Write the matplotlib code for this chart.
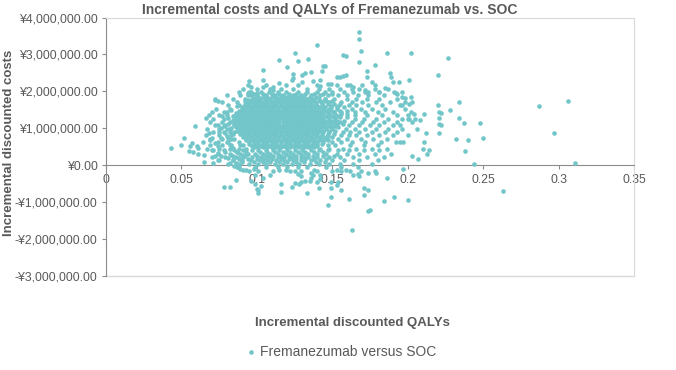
import matplotlib.pyplot as plt
import numpy as np
from matplotlib.ticker import FuncFormatter, MultipleLocator

plt.rcParams["font.family"] = ["Liberation Sans", "DejaVu Sans"]

TITLE = "Incremental costs and QALYs of Fremanezumab vs. SOC"
X_LABEL = "Incremental discounted QALYs"
Y_LABEL = "Incremental discounted costs"
SERIES = "Fremanezumab versus SOC"

# scattered simulations read one by one (QALY, cost in million yen)
single_points = [
    (0.168, 3.62), (0.168, 3.41), (0.169, 3.10), (0.168, 2.80), (0.140, 3.25),
    (0.125, 3.04), (0.186, 3.04), (0.157, 2.99), (0.159, 2.96), (0.115, 2.85),
    (0.127, 2.82), (0.134, 2.87), (0.120, 2.67), (0.144, 2.68), (0.145, 2.68),
    (0.178, 2.71), (0.104, 2.58), (0.124, 2.46), (0.130, 2.45), (0.132, 2.49),
    (0.136, 2.52), (0.143, 2.56), (0.157, 2.42), (0.155, 2.40), (0.159, 2.45),
    (0.153, 2.39), (0.173, 2.54), (0.173, 2.40), (0.188, 2.51), (0.189, 2.38),
    (0.190, 2.26), (0.104, 2.31), (0.123, 2.31), (0.124, 2.36), (0.130, 2.24),
    (0.137, 2.29), (0.142, 2.31), (0.147, 2.20), (0.149, 2.20), (0.142, 2.14),
    (0.162, 2.17), (0.164, 2.13), (0.176, 2.25), (0.172, 2.04), (0.174, 1.99),
    (0.181, 1.99), (0.185, 2.10), (0.192, 1.95), (0.111, 2.13), (0.111, 2.04),
    (0.115, 2.22), (0.095, 2.29), (0.096, 2.11), (0.104, 2.13), (0.095, 1.99),
    (0.094, 1.95), (0.096, 1.91), (0.100, 1.95), (0.072, 1.79),
    (0.202, 3.03), (0.227, 2.91), (0.220, 2.43), (0.194, 2.26), (0.201, 2.30),
    (0.193, 1.93), (0.196, 1.99), (0.198, 1.82), (0.202, 1.84), (0.196, 1.86),
    (0.306, 1.75), (0.287, 1.61), (0.297, 0.86), (0.234, 1.71), (0.220, 1.64),
    (0.228, 1.50), (0.221, 1.44), (0.222, 1.41), (0.221, 1.28), (0.221, 1.12),
    (0.222, 1.09), (0.234, 1.28), (0.237, 1.14), (0.248, 1.15), (0.221, 0.87),
    (0.232, 0.72), (0.240, 0.68), (0.250, 0.75), (0.238, 0.38), (0.244, 0.03),
    (0.212, 0.87), (0.211, 0.64), (0.210, 0.44), (0.214, 0.41), (0.213, 0.30),
    (0.203, 0.25), (0.207, 0.16), (0.197, 0.64), (0.195, 0.62), (0.195, 1.09),
    (0.211, 1.38), (0.202, 1.44), (0.204, 1.40), (0.200, 1.26), (0.201, 1.26),
    (0.205, 1.26), (0.208, 1.23), (0.196, 1.64), (0.198, 1.71), (0.201, 1.65),
    (0.203, 1.71), (0.197, -0.09), (0.311, 0.07),
    (0.200, -0.93), (0.263, -0.71),
    (0.163, -1.76), (0.174, -1.23), (0.175, -1.20), (0.161, -0.91), (0.147, -1.07),
    (0.149, -0.86), (0.133, -0.74), (0.116, -0.73), (0.116, -0.51), (0.123, -0.59),
    (0.125, -0.48), (0.128, -0.51), (0.129, -0.45), (0.132, -0.42), (0.135, -0.44),
    (0.136, -0.35), (0.137, -0.26), (0.136, -0.21), (0.140, -0.45), (0.141, -0.62),
    (0.142, -0.36), (0.149, -0.62), (0.154, -0.45), (0.156, -0.66), (0.153, -0.53),
    (0.168, -0.30), (0.167, -0.24), (0.169, -0.17), (0.171, -0.62), (0.171, -0.80),
    (0.174, -0.68), (0.174, -0.21), (0.178, -0.17), (0.179, -0.21), (0.186, -0.35),
    (0.184, -0.96), (0.191, -0.87), (0.109, -0.26), (0.111, -0.17), (0.115, -0.12),
    (0.119, -0.12), (0.122, -0.17), (0.125, -0.17), (0.127, -0.24), (0.129, -0.17),
    (0.129, -0.30), (0.138, -0.12), (0.140, -0.17), (0.142, -0.26), (0.150, -0.17),
    (0.153, -0.12), (0.156, -0.17), (0.159, -0.12), (0.162, -0.17), (0.164, -0.26),
    (0.149, -0.45),
    (0.078, -0.60), (0.082, -0.58), (0.086, -0.41), (0.091, -0.12), (0.093, -0.12),
    (0.089, -0.09), (0.096, -0.42), (0.099, -0.51), (0.100, -0.64), (0.101, -0.75),
    (0.101, -0.66), (0.099, -0.26), (0.101, -0.17), (0.095, -0.17), (0.098, -0.09),
    (0.103, -0.55), (0.104, -0.35), (0.085, -0.03), (0.088, -0.06),
    (0.043, 0.46), (0.050, 0.55), (0.052, 0.73), (0.057, 0.60), (0.056, 0.51),
    (0.055, 0.39), (0.058, 0.37), (0.060, 0.51), (0.061, 0.46), (0.061, 0.31),
    (0.065, 0.28), (0.065, 0.10), (0.059, 1.07), (0.066, 1.29), (0.068, 1.36),
    (0.072, 1.77), (0.074, 1.74), (0.068, 0.87), (0.070, 0.75), (0.069, 0.69),
    (0.072, 0.60), (0.074, 0.51), (0.071, 0.42), (0.074, 0.33), (0.072, 0.24),
    (0.076, 0.24), (0.071, 0.06), (0.074, 0.15), (0.078, 1.45), (0.077, 1.32),
    (0.081, 1.28), (0.074, 1.09), (0.076, 1.01), (0.078, 1.05), (0.075, 0.91),
    (0.079, 0.87), (0.076, 0.75), (0.081, 0.74),
    (0.082, 1.18), (0.084, 1.32), (0.086, 1.41), (0.083, 1.01), (0.085, 0.91),
    (0.082, 0.55), (0.084, 0.46), (0.079, 0.37), (0.083, 0.28), (0.081, 0.19),
    (0.084, 0.15), (0.086, 0.06), (0.088, 0.19), (0.091, 0.28), (0.087, 0.37),
    (0.082, 0.06), (0.092, 1.74), (0.094, 1.77), (0.098, 1.82), (0.103, 1.72),
    (0.106, 1.77), (0.101, 1.86), (0.093, 1.55), (0.099, 1.50), (0.104, 1.45),
    (0.080, 0.62), (0.083, 0.70), (0.080, 0.80), (0.084, 0.84), (0.082, 0.97),
    (0.085, 1.08), (0.081, 1.12), (0.084, 1.23), (0.083, 1.49), (0.087, 1.60),
]

# dense body of the cloud, read row by row (cost level, QALYs along the row)
row_costs = [
    2.16, 2.07, 1.98, 1.93, 1.89,
    1.84, 1.75, 1.66, 1.57, 1.48, 1.39, 1.30, 1.21, 1.12, 1.03, 0.94, 0.85,
    0.76, 0.67, 0.58, 0.49,
    1.79, 1.70, 1.61, 1.52, 1.43, 1.34, 1.25, 1.16, 1.07, 0.98, 0.89, 0.80,
    0.71, 0.62, 0.53,
    1.80, 1.71, 1.62, 1.53, 1.44, 1.35, 1.26, 1.17, 1.08, 0.99, 0.90, 0.81,
    0.72, 0.63, 0.54, 0.45,
    0.40, 0.35, 0.31, 0.26, 0.22, 0.17, 0.13, 0.08, 0.04, -0.05,
]
row_qalys = [
    [0.094, 0.106, 0.119, 0.127, 0.140, 0.153, 0.160, 0.170, 0.178],
    [0.091, 0.100, 0.109, 0.116, 0.124, 0.133, 0.141, 0.148, 0.155, 0.163, 0.168, 0.178, 0.187],
    [0.088, 0.096, 0.103, 0.108, 0.114, 0.119, 0.127, 0.133, 0.140, 0.145, 0.150, 0.158,
     0.164, 0.172, 0.181, 0.191],
    [0.098, 0.104, 0.110, 0.115, 0.121, 0.126, 0.132, 0.138, 0.144, 0.150],
    [0.080, 0.089, 0.094, 0.100, 0.106, 0.112, 0.117, 0.124, 0.129, 0.136, 0.142, 0.147,
     0.154, 0.160, 0.167, 0.174, 0.184],
    # solid core
    [0.101, 0.104, 0.107, 0.110, 0.113, 0.116, 0.119, 0.122, 0.125, 0.128, 0.131, 0.135, 0.139],
    [0.095, 0.098, 0.101, 0.103, 0.106, 0.109, 0.112, 0.115, 0.117, 0.120, 0.123, 0.126,
     0.129, 0.132, 0.135, 0.138, 0.142, 0.146, 0.150],
    [0.092, 0.095, 0.098, 0.101, 0.104, 0.107, 0.110, 0.113, 0.116, 0.119, 0.122, 0.124,
     0.127, 0.130, 0.133, 0.136, 0.139, 0.143, 0.147, 0.151, 0.155],
    [0.090, 0.093, 0.096, 0.099, 0.102, 0.105, 0.108, 0.111, 0.114, 0.117, 0.120, 0.123,
     0.126, 0.129, 0.132, 0.135, 0.138, 0.141, 0.145, 0.149, 0.153, 0.158],
    [0.088, 0.091, 0.094, 0.097, 0.100, 0.103, 0.106, 0.109, 0.112, 0.115, 0.118, 0.121,
     0.124, 0.127, 0.130, 0.133, 0.136, 0.139, 0.142, 0.146, 0.150, 0.155, 0.160],
    [0.087, 0.090, 0.093, 0.096, 0.099, 0.102, 0.105, 0.108, 0.111, 0.114, 0.117, 0.120,
     0.123, 0.126, 0.129, 0.132, 0.135, 0.138, 0.141, 0.144, 0.148, 0.152, 0.156, 0.160],
    [0.086, 0.089, 0.092, 0.095, 0.098, 0.101, 0.104, 0.107, 0.110, 0.113, 0.116, 0.119,
     0.122, 0.125, 0.128, 0.131, 0.134, 0.137, 0.140, 0.143, 0.147, 0.151, 0.155, 0.160],
    [0.085, 0.088, 0.091, 0.094, 0.097, 0.100, 0.103, 0.106, 0.109, 0.112, 0.115, 0.118,
     0.121, 0.124, 0.127, 0.130, 0.133, 0.136, 0.139, 0.142, 0.145, 0.149, 0.153, 0.158],
    [0.085, 0.088, 0.091, 0.094, 0.097, 0.100, 0.103, 0.106, 0.109, 0.112, 0.115, 0.118,
     0.121, 0.124, 0.127, 0.130, 0.133, 0.136, 0.139, 0.142, 0.145, 0.149, 0.153, 0.157],
    [0.086, 0.089, 0.092, 0.095, 0.098, 0.101, 0.104, 0.107, 0.110, 0.113, 0.116, 0.119,
     0.122, 0.125, 0.128, 0.131, 0.134, 0.137, 0.140, 0.143, 0.146, 0.150, 0.154],
    [0.087, 0.090, 0.093, 0.096, 0.099, 0.102, 0.105, 0.108, 0.111, 0.114, 0.117, 0.120,
     0.123, 0.126, 0.129, 0.132, 0.135, 0.138, 0.141, 0.144, 0.148, 0.152],
    [0.089, 0.092, 0.095, 0.098, 0.101, 0.104, 0.107, 0.110, 0.113, 0.116, 0.119, 0.122,
     0.125, 0.128, 0.131, 0.134, 0.137, 0.140, 0.143, 0.147, 0.151],
    [0.091, 0.094, 0.097, 0.100, 0.103, 0.106, 0.109, 0.112, 0.115, 0.118, 0.121, 0.124,
     0.127, 0.130, 0.133, 0.136, 0.139, 0.142, 0.146, 0.150],
    [0.093, 0.096, 0.099, 0.102, 0.105, 0.108, 0.111, 0.114, 0.117, 0.120, 0.123, 0.126,
     0.129, 0.132, 0.135, 0.138, 0.141, 0.144, 0.147],
    [0.095, 0.098, 0.101, 0.104, 0.107, 0.110, 0.113, 0.116, 0.119, 0.122, 0.125, 0.128,
     0.131, 0.134, 0.137, 0.140, 0.143],
    [0.098, 0.101, 0.104, 0.107, 0.110, 0.113, 0.116, 0.119, 0.122, 0.125, 0.128, 0.131,
     0.134, 0.138],
    # core rows in between
    [0.097, 0.100, 0.103, 0.106, 0.109, 0.112, 0.115, 0.118, 0.121, 0.124, 0.127, 0.130,
     0.133, 0.137, 0.141, 0.145],
    [0.094, 0.097, 0.100, 0.103, 0.106, 0.109, 0.111, 0.114, 0.117, 0.120, 0.123, 0.126,
     0.129, 0.132, 0.135, 0.139, 0.143, 0.148],
    [0.092, 0.095, 0.098, 0.101, 0.104, 0.107, 0.110, 0.113, 0.116, 0.119, 0.122, 0.125,
     0.128, 0.131, 0.134, 0.137, 0.140, 0.144, 0.149, 0.154],
    [0.090, 0.093, 0.096, 0.099, 0.102, 0.105, 0.108, 0.111, 0.114, 0.117, 0.120, 0.123,
     0.126, 0.129, 0.132, 0.135, 0.138, 0.141, 0.144, 0.148, 0.153],
    [0.089, 0.092, 0.095, 0.098, 0.101, 0.104, 0.107, 0.110, 0.113, 0.116, 0.119, 0.122,
     0.125, 0.128, 0.131, 0.134, 0.137, 0.140, 0.143, 0.147, 0.151, 0.156],
    [0.088, 0.091, 0.094, 0.097, 0.100, 0.103, 0.106, 0.109, 0.112, 0.115, 0.118, 0.121,
     0.124, 0.127, 0.130, 0.133, 0.136, 0.139, 0.142, 0.146, 0.150, 0.154],
    [0.087, 0.090, 0.093, 0.096, 0.099, 0.102, 0.105, 0.108, 0.111, 0.114, 0.117, 0.120,
     0.123, 0.126, 0.129, 0.132, 0.135, 0.138, 0.141, 0.144, 0.148, 0.152],
    [0.086, 0.090, 0.093, 0.096, 0.099, 0.102, 0.105, 0.108, 0.111, 0.114, 0.117, 0.120,
     0.123, 0.126, 0.129, 0.132, 0.135, 0.138, 0.141, 0.144, 0.147, 0.151, 0.155],
    [0.087, 0.090, 0.093, 0.096, 0.099, 0.102, 0.105, 0.108, 0.111, 0.114, 0.117, 0.120,
     0.123, 0.126, 0.129, 0.132, 0.135, 0.138, 0.141, 0.144, 0.148, 0.152],
    [0.088, 0.091, 0.094, 0.097, 0.100, 0.103, 0.106, 0.109, 0.112, 0.115, 0.118, 0.121,
     0.124, 0.127, 0.130, 0.133, 0.136, 0.139, 0.142, 0.146, 0.150],
    [0.089, 0.092, 0.095, 0.098, 0.101, 0.104, 0.107, 0.110, 0.113, 0.116, 0.119, 0.122,
     0.125, 0.128, 0.131, 0.134, 0.137, 0.140, 0.144, 0.148],
    [0.091, 0.094, 0.097, 0.100, 0.103, 0.106, 0.109, 0.112, 0.115, 0.118, 0.121, 0.124,
     0.127, 0.130, 0.133, 0.136, 0.139, 0.143, 0.147],
    [0.093, 0.096, 0.099, 0.102, 0.105, 0.108, 0.111, 0.114, 0.117, 0.120, 0.123, 0.126,
     0.129, 0.132, 0.135, 0.138, 0.142, 0.146],
    [0.095, 0.098, 0.101, 0.104, 0.107, 0.110, 0.113, 0.116, 0.119, 0.122, 0.125, 0.128,
     0.131, 0.134, 0.137, 0.140, 0.144],
    [0.097, 0.100, 0.103, 0.106, 0.109, 0.112, 0.115, 0.118, 0.121, 0.124, 0.127, 0.130,
     0.133, 0.136, 0.140],
    # edges of the core
    [0.084, 0.092, 0.145, 0.151, 0.160, 0.166, 0.173, 0.181, 0.193],
    [0.077, 0.087, 0.156, 0.163, 0.170, 0.179, 0.188],
    [0.081, 0.088, 0.161, 0.166, 0.174, 0.183, 0.195],
    [0.073, 0.082, 0.163, 0.169, 0.176, 0.185, 0.198],
    [0.070, 0.080, 0.165, 0.172, 0.180, 0.190],
    [0.075, 0.080, 0.165, 0.173, 0.183, 0.193, 0.200],
    [0.071, 0.078, 0.165, 0.171, 0.179, 0.187, 0.196],
    [0.069, 0.077, 0.163, 0.170, 0.177, 0.184, 0.193, 0.203],
    [0.072, 0.079, 0.161, 0.168, 0.175, 0.181, 0.190],
    [0.067, 0.075, 0.080, 0.159, 0.165, 0.172, 0.179, 0.187, 0.196, 0.206],
    [0.071, 0.078, 0.082, 0.157, 0.162, 0.168, 0.176, 0.185, 0.193],
    [0.066, 0.075, 0.083, 0.156, 0.161, 0.166, 0.173, 0.181, 0.190, 0.200],
    [0.069, 0.077, 0.085, 0.154, 0.160, 0.169, 0.177, 0.186],
    [0.064, 0.074, 0.081, 0.088, 0.150, 0.156, 0.163, 0.172, 0.182, 0.192],
    [0.069, 0.077, 0.083, 0.089, 0.091, 0.147, 0.152, 0.162, 0.171, 0.180],
    [0.067, 0.075, 0.082, 0.088, 0.093, 0.142, 0.148, 0.157, 0.166, 0.176, 0.186],
    # lower part, down to the axis
    [0.070, 0.078, 0.085, 0.091, 0.097, 0.101, 0.106, 0.111, 0.115, 0.120, 0.125, 0.130,
     0.136, 0.141, 0.147, 0.154, 0.161, 0.171, 0.181],
    [0.087, 0.093, 0.102, 0.107, 0.112, 0.117, 0.122, 0.127, 0.132, 0.138, 0.144],
    [0.074, 0.082, 0.089, 0.094, 0.099, 0.104, 0.109, 0.114, 0.119, 0.124, 0.129, 0.134,
     0.140, 0.146, 0.153, 0.160, 0.168, 0.178, 0.189],
    [0.084, 0.092, 0.100, 0.106, 0.111, 0.116, 0.121, 0.126, 0.131, 0.137, 0.144, 0.151],
    [0.070, 0.079, 0.086, 0.091, 0.097, 0.103, 0.108, 0.114, 0.118, 0.123, 0.129, 0.134,
     0.140, 0.148, 0.155, 0.164, 0.173, 0.184],
    [0.088, 0.094, 0.100, 0.105, 0.110, 0.116, 0.121, 0.126, 0.132, 0.138, 0.146],
    [0.075, 0.084, 0.090, 0.096, 0.102, 0.107, 0.113, 0.118, 0.124, 0.129, 0.136, 0.142,
     0.150, 0.158, 0.168, 0.180],
    [0.090, 0.098, 0.104, 0.109, 0.115, 0.120, 0.126, 0.131, 0.139, 0.145],
    [0.081, 0.088, 0.095, 0.101, 0.106, 0.112, 0.117, 0.123, 0.128, 0.135, 0.141, 0.148,
     0.155, 0.164, 0.176],
    [0.087, 0.099, 0.106, 0.114, 0.120, 0.127, 0.133, 0.146, 0.156, 0.167],
]

POINT_COLOR = "#72C6C9"
TEXT_COLOR = "#595959"
AXIS_COLOR = "#8C8C8C"
FRAME_COLOR = "#D9D9D9"


def yen(v, _pos):
    sign = "-" if v < 0 else ""
    return f"{sign}\u00a5{abs(v):,.2f}"


def main():
    qaly = [p[0] for p in single_points]
    cost = [p[1] for p in single_points]
    for c, xs in zip(row_costs, row_qalys):
        qaly.extend(xs)
        cost.extend([c] * len(xs))
    qaly = np.array(qaly)
    cost = np.array(cost) * 1e6

    fig = plt.figure(figsize=(6.76, 3.70), dpi=100)
    ax = fig.add_axes([106 / 676, 94 / 370, 528 / 676, 258.5 / 370])

    sc = ax.scatter(qaly, cost, s=11, color=POINT_COLOR, linewidths=0, zorder=3)

    ax.set_xlim(0, 0.35)
    ax.set_ylim(-3e6, 4e6)
    ax.xaxis.set_major_locator(MultipleLocator(0.05))
    ax.yaxis.set_major_locator(MultipleLocator(1e6))
    ax.xaxis.set_major_formatter(FuncFormatter(lambda v, _p: f"{v:g}"))
    ax.yaxis.set_major_formatter(FuncFormatter(yen))

    ax.spines["bottom"].set_position(("data", 0))
    ax.spines["bottom"].set_color(AXIS_COLOR)
    ax.spines["left"].set_color(AXIS_COLOR)
    ax.spines["top"].set_color(FRAME_COLOR)
    ax.spines["right"].set_color(FRAME_COLOR)
    ax.plot([0, 1], [0, 0], transform=ax.transAxes, color=FRAME_COLOR,
            lw=1, clip_on=False, zorder=1)

    ax.tick_params(axis="both", direction="out", length=3, width=0.8,
                   color=AXIS_COLOR, labelcolor=TEXT_COLOR, labelsize=8.8, pad=3)

    fig.text(330 / 676, 1 - 10 / 370, TITLE, ha="center", va="center",
             fontsize=10, fontweight="bold", color=TEXT_COLOR)
    fig.text(9 / 676, 1 - 143 / 370, Y_LABEL, ha="center", va="center",
             rotation=90, fontsize=9.5, fontweight="bold", color=TEXT_COLOR)
    fig.text(352 / 676, 1 - 323 / 370, X_LABEL, ha="center", va="center",
             fontsize=9.5, fontweight="bold", color=TEXT_COLOR)

    fig.legend(handles=[sc], labels=[SERIES], loc="center",
               bbox_to_anchor=(340 / 676, 1 - 352 / 370), frameon=False,
               fontsize=10, labelcolor=TEXT_COLOR, handletextpad=0.1,
               handlelength=1.0, markerscale=1.0)

    fig.savefig("out.png", dpi=100)
    plt.close(fig)


if __name__ == "__main__":
    main()
